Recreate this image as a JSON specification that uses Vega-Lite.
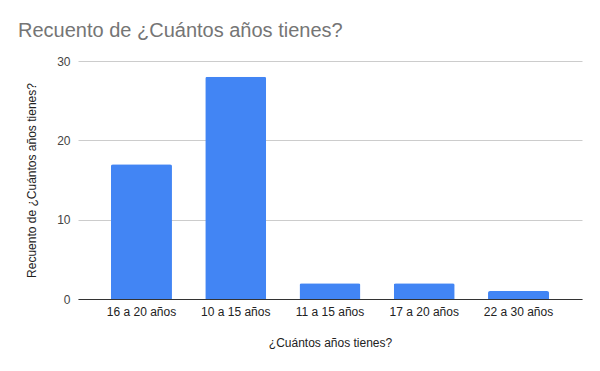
{
  "$schema": "https://vega.github.io/schema/vega-lite/v6.json",
  "autosize": "none",
  "width": 504,
  "height": 238,
  "padding": {"left": 78, "top": 61, "right": 18, "bottom": 72},
  "background": "white",
  "config": {
    "font": "Liberation Sans",
    "view": {"stroke": null}
  },
  "title": {
    "text": "Recuento de ¿Cuántos años tienes?",
    "anchor": "start",
    "frame": "group",
    "fontSize": 20,
    "fontWeight": "normal",
    "color": "#757575",
    "font": "Liberation Sans",
    "dx": -60,
    "offset": 14
  },
  "data": {
    "values": [
      {"edad": "16 a 20 años", "n": 17},
      {"edad": "10 a 15 años", "n": 28},
      {"edad": "11 a 15 años", "n": 2},
      {"edad": "17 a 20 años", "n": 2},
      {"edad": "22 a 30 años", "n": 1}
    ]
  },
  "mark": {"type": "bar", "color": "#4285F4", "cornerRadiusTopLeft": 2, "cornerRadiusTopRight": 2},
  "encoding": {
    "x": {
      "field": "edad",
      "type": "nominal",
      "sort": null,
      "scale": {"paddingInner": 0.353, "paddingOuter": 0.35},
      "axis": {
        "title": "¿Cuántos años tienes?",
        "labelAngle": 0,
        "labelFontSize": 12,
        "labelColor": "#222222",
        "titleFontSize": 12,
        "titleFontWeight": "normal",
        "titleColor": "#222222",
        "titlePadding": 20,
        "ticks": false,
        "labelPadding": 7,
        "domainColor": "#333333",
        "domainWidth": 1
      }
    },
    "y": {
      "field": "n",
      "type": "quantitative",
      "scale": {"domain": [0, 30]},
      "axis": {
        "title": "Recuento de ¿Cuántos años tienes?",
        "values": [0, 10, 20, 30],
        "labelFontSize": 12,
        "labelColor": "#444444",
        "titleFontSize": 12,
        "titleFontWeight": "normal",
        "titleColor": "#222222",
        "titlePadding": 18,
        "ticks": false,
        "domain": false,
        "labelPadding": 8,
        "gridColor": "#cccccc"
      }
    }
  }
}
